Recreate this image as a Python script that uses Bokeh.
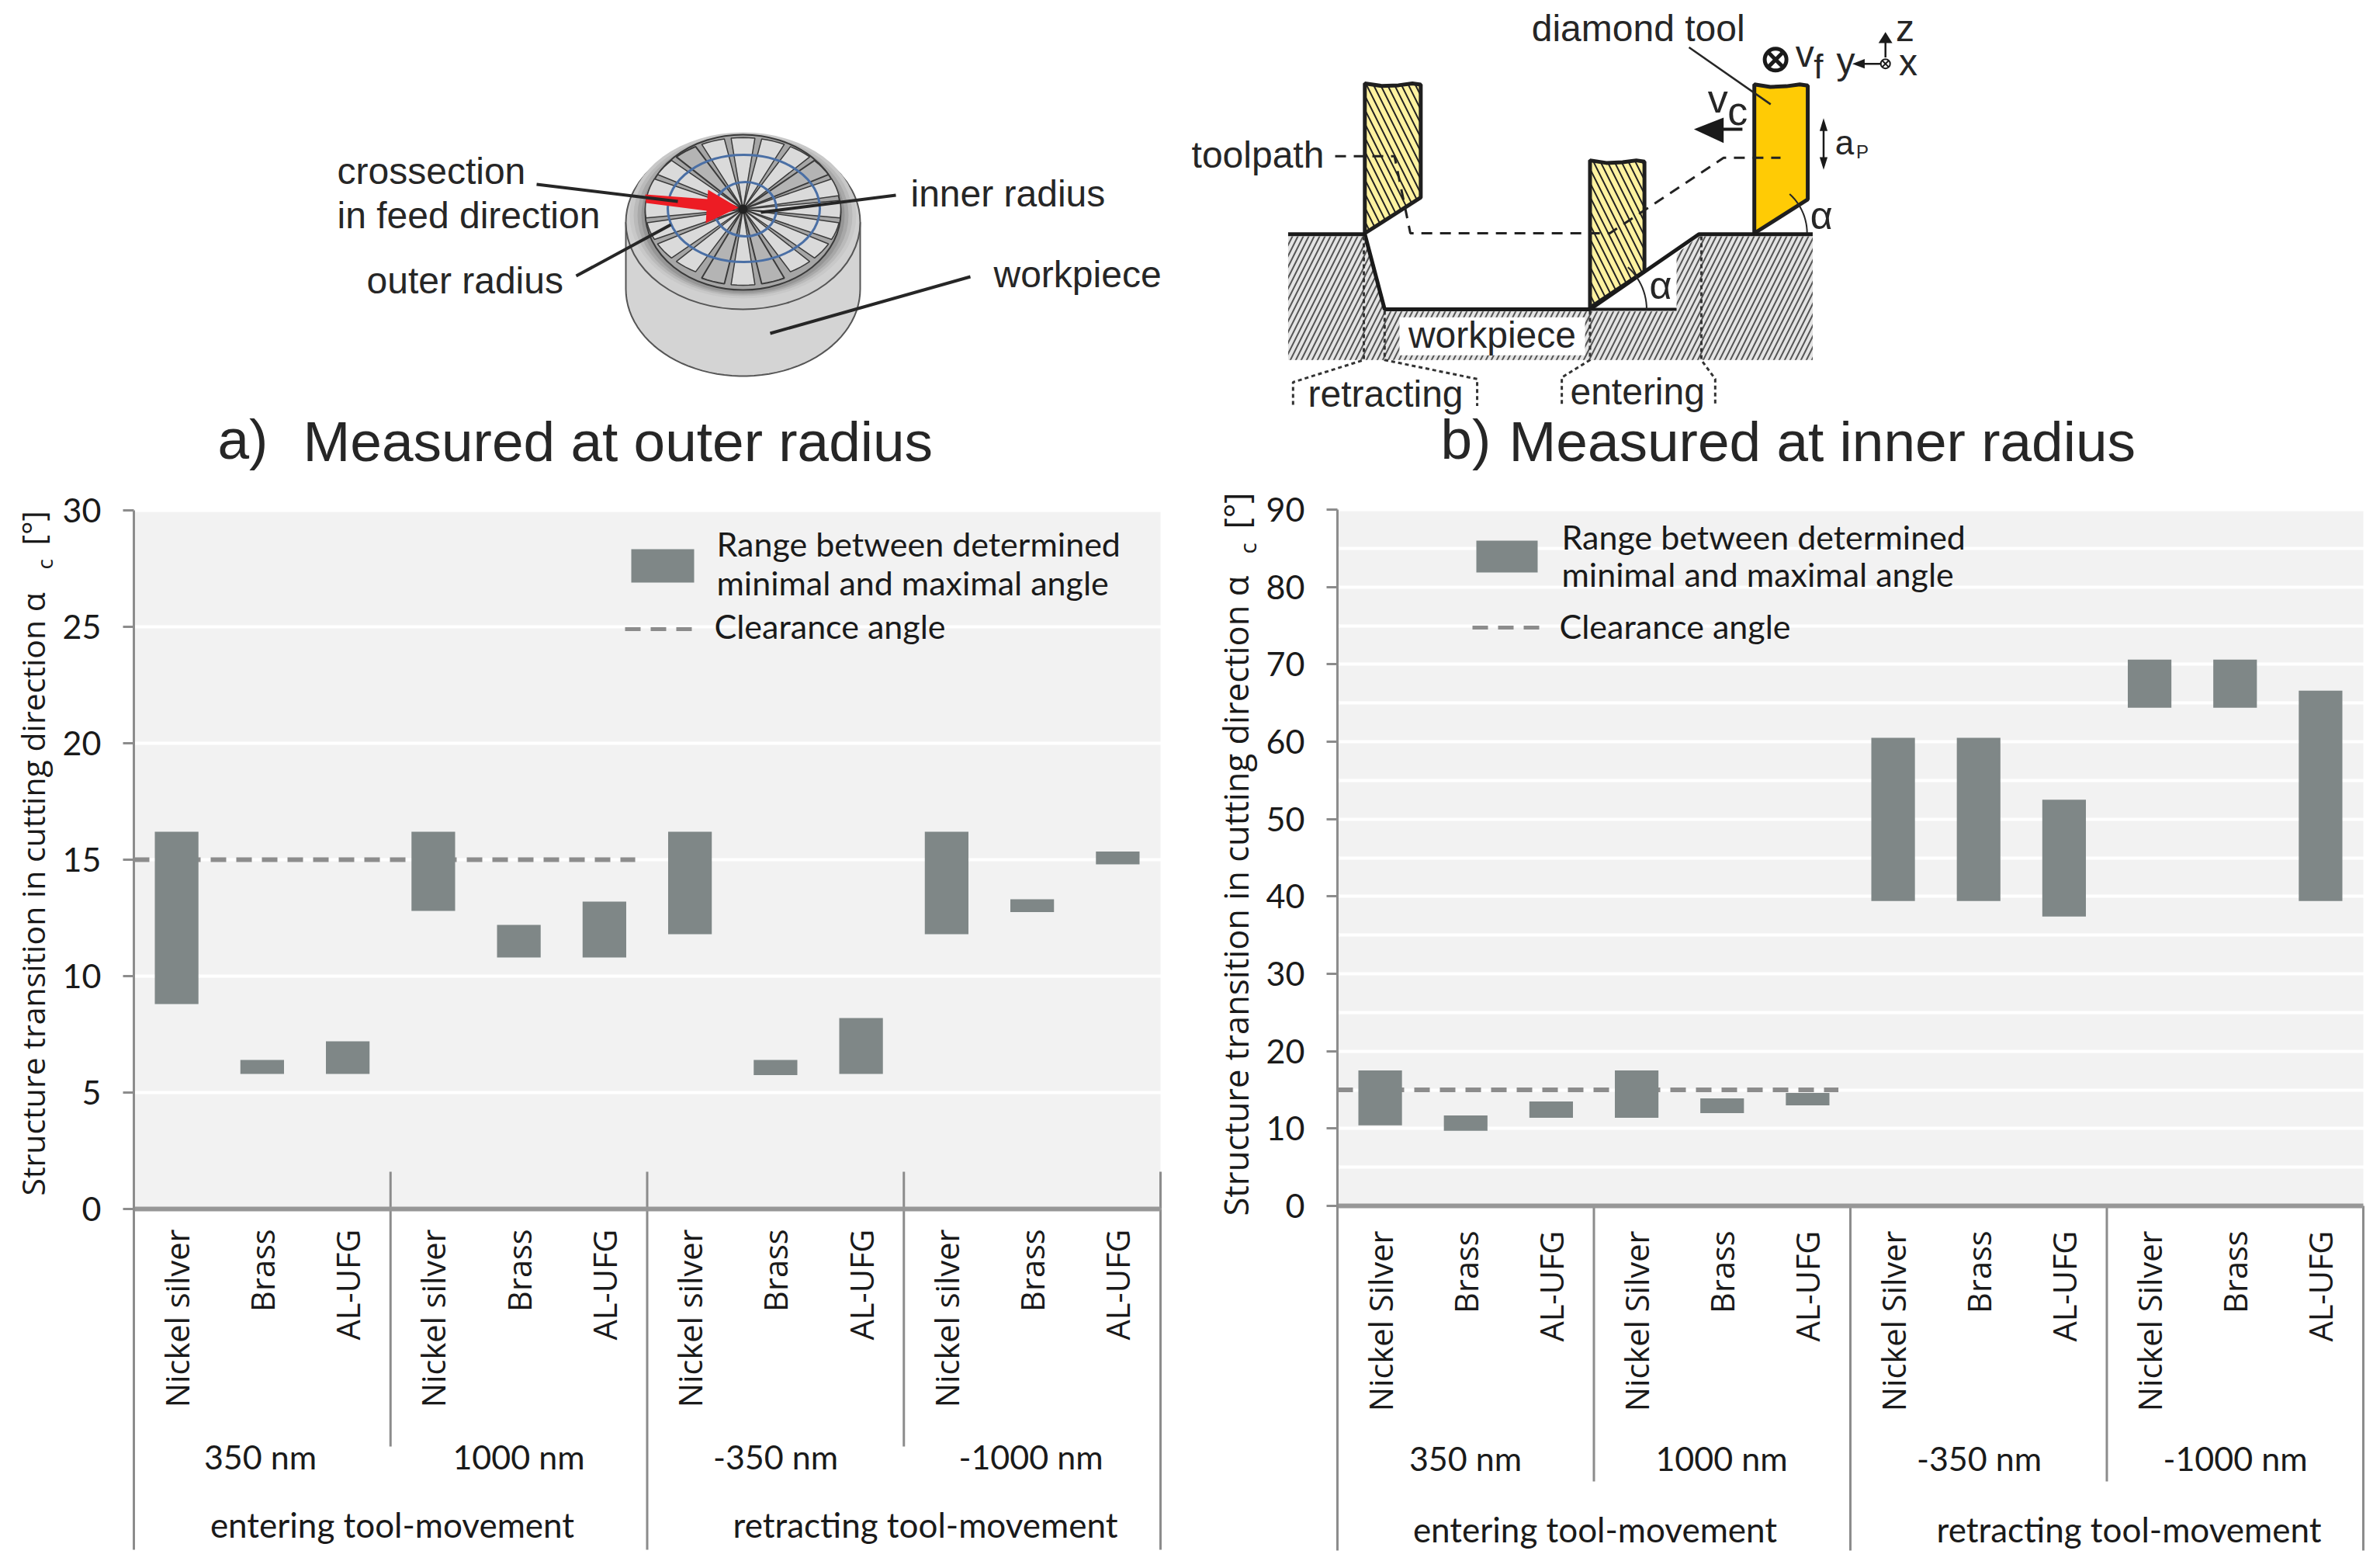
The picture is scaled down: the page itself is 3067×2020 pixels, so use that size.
import math
import numpy as np
from bokeh.core.properties import value
from bokeh.embed import file_html
from bokeh.layouts import column, row
from bokeh.models import BoxAnnotation, FixedTicker, Label, Range1d
from bokeh.plotting import figure
from bokeh.resources import INLINE

# ---------- data ----------
materials_a = ["Nickel silver", "Brass", "AL-UFG"] * 4
materials_b = ["Nickel Silver", "Brass", "AL-UFG"] * 4
depth_labels = ["350 nm", "1000 nm", "-350 nm", "-1000 nm"]
move_labels = ["entering tool-movement", "retracting tool-movement"]

outer_low = [8.8, 5.8, 5.8, 12.8, 10.8, 10.8, 11.8, 5.75, 5.8, 11.8, 12.75, 14.8]
outer_high = [16.2, 6.4, 7.2, 16.2, 12.2, 13.2, 16.2, 6.4, 8.2, 16.2, 13.3, 15.35]
inner_low = [10.4, 9.7, 11.4, 11.4, 12.0, 13.0, 39.4, 39.4, 37.4, 64.4, 64.4, 39.4]
inner_high = [17.5, 11.7, 13.5, 17.5, 13.9, 14.6, 60.5, 60.5, 52.5, 70.6, 70.6, 66.6]

outer_ticks = [0, 5, 10, 15, 20, 25, 30]
inner_ticks = [0, 10, 20, 30, 40, 50, 60, 70, 80, 90]
inner_minor = [5, 15, 25, 35, 45, 55, 65, 75, 85]
clearance_angle = 15

GREY = "#8c8c8c"
BAR = "#7f8787"
INK = "#262626"
SANS = "Liberation Sans"
CAL = "Lato"
WIDE = "Open Sans"


# ---------- charts ----------
def make_chart(names, low, high, ticks, minor, ymax, canvas, frame, zero, stub, sep_short, cfg):
    cl, cr, ct, cb = canvas
    l, r, t, b = frame
    sx = lambda px: (px - l) / (r - l) * 12
    sy = lambda py: (zero - py) / (zero - t) * ymax
    p = figure(width=cr - cl, height=cb - ct, output_backend="svg", toolbar_location=None,
               x_range=Range1d(sx(cl), sx(cr)), y_range=Range1d(sy(cb), sy(ct)),
               min_border=0, outline_line_color=None, background_fill_color="white",
               border_fill_color="white")
    box = BoxAnnotation(left=0, right=12, bottom=0, top=ymax, fill_color="#f2f2f2", fill_alpha=1,
                        line_color=None, level="image")
    p.add_layout(box)
    p.xgrid.visible = False
    g = p.ygrid[0]
    g.ticker = FixedTicker(ticks=ticks, minor_ticks=minor)
    g.grid_line_color = "white"
    g.grid_line_width = 4
    g.minor_grid_line_color = "white" if minor else None
    g.minor_grid_line_width = 4

    ya = p.yaxis[0]
    ya.fixed_location = 0
    ya.bounds = (sy(b), ymax)
    ya.ticker = FixedTicker(ticks=ticks)
    ya.major_label_text_font = CAL
    ya.major_label_text_font_size = "43px"
    ya.major_label_text_color = "#1a1a1a"
    ya.major_label_standoff = 28
    ya.major_tick_out = 14
    ya.major_tick_in = 0
    ya.minor_tick_line_color = None
    ya.major_tick_line_color = GREY
    ya.major_tick_line_width = 3
    ya.axis_line_color = GREY
    ya.axis_line_width = 3

    xa = p.xaxis[0]
    xa.fixed_location = 0
    xa.bounds = (0, 12)
    pos = [i + 0.5 for i in range(12)]
    xa.ticker = FixedTicker(ticks=pos)
    xa.major_label_overrides = {q: n for q, n in zip(pos, names)}
    xa.major_label_orientation = math.pi / 2
    xa.major_label_text_font = WIDE
    xa.major_label_text_font_size = cfg["tick_size"]
    xa.major_label_text_color = "#1a1a1a"
    xa.major_label_standoff = cfg["tick_off"]
    xa.major_tick_line_color = None
    xa.minor_tick_line_color = None
    xa.axis_line_color = "#979797"
    xa.axis_line_width = 6

    # clearance, then bars over it
    p.line([0, 5.86], [clearance_angle, clearance_angle], line_color=GREY, line_width=6, line_dash="20 13")
    p.vbar(x=pos, width=0.51, bottom=low, top=high, fill_color=BAR, line_color=None)

    # dividers
    xs = [3, 6, 9, 12, 3, 9, 6, 12]
    y0 = [sy(zero - stub)] * 4 + [0, 0, 0, 0]
    y1 = [0, 0, 0, 0, sy(sep_short), sy(sep_short), sy(b), sy(b)]
    p.segment(x0=xs, y0=y0, x1=xs, y1=y1, line_color=GREY, line_width=3)

    def lab(text, x, y, size, font=CAL, align="center", angle=0):
        p.add_layout(Label(x=sx(x), y=sy(y), text=text, text_font=font, text_font_size=f"{size}px",
                           text_align=align, text_baseline="middle", text_color="#1a1a1a", angle=angle))

    for k, txt in enumerate(depth_labels):
        lab(txt, cfg["depth_x"][k], cfg["depth_y"], 43)
    for k, txt in enumerate(move_labels):
        lab(txt, cfg["move_x"][k], cfg["move_y"], 44)

    # rotated axis title
    tx, ty = cfg["title"]
    lab("Structure transition in cutting direction \u03b1", tx, ty, cfg["title_size"], WIDE, "left", math.pi / 2)
    lab("c", tx + 15, cfg["sub_y"], cfg["title_size"] * 0.68, WIDE, "left", math.pi / 2)
    lab("[\u00b0]", tx, cfg["unit_y"], cfg["title_size"], WIDE, "left", math.pi / 2)

    # legend key
    kx0, kx1, ky0, ky1 = cfg["key"]
    p.quad(left=[sx(kx0)], right=[sx(kx1)], top=[sy(ky0)], bottom=[sy(ky1)], fill_color=BAR, line_color=None)
    dx0, dx1, dy = cfg["dash"]
    p.line([sx(dx0), sx(dx1)], [sy(dy), sy(dy)], line_color=GREY, line_width=5, line_dash="20 13")
    tl = cfg["legend_x"]
    lab("Range between determined", tl, cfg["legend_y"][0], 43, CAL, "left")
    lab("minimal and maximal angle", tl, cfg["legend_y"][1], 43, CAL, "left")
    lab("Clearance angle", tl - 3, cfg["legend_y"][2], 43, CAL, "left")
    return p


chart_a = make_chart(
    materials_a, outer_low, outer_high, outer_ticks, [], 30,
    (0, 1560, 620, 2012), (172, 1495, 657, 1996), 1557, 48, 1863,
    dict(tick_size="41.5px", tick_off=20, depth_x=[335, 668, 999, 1328], depth_y=1876,
         move_x=[505, 1192], move_y=1963, title=(41, 1540), title_size=41, sub_y=733, unit_y=702,
         key=(813, 894, 707, 750), dash=(805, 892, 810), legend_x=923, legend_y=(700, 750, 806)),
)
chart_b = make_chart(
    materials_b, inner_low, inner_high, inner_ticks, inner_minor, 90,
    (1560, 3059, 620, 2012), (1723, 3045, 656, 1997), 1553, 0, 1908,
    dict(tick_size="41.5px", tick_off=26, depth_x=[1888, 2218, 2550, 2880], depth_y=1878,
         move_x=[2055, 2743], move_y=1969, title=(1592, 1566), title_size=43.5, sub_y=713, unit_y=681,
         key=(1902, 1981, 696, 737), dash=(1897, 1983, 808), legend_x=2012, legend_y=(691, 739, 806)),
)

# ---------- schematics ----------
top = figure(width=3059, height=620, output_backend="svg", toolbar_location=None,
             x_range=Range1d(0, 3059), y_range=Range1d(620, 0), min_border=0,
             outline_line_color=None, x_axis_location=None, y_axis_location=None)
top.xgrid.visible = False
top.ygrid.visible = False


def T(text, x, y, size=48, align="left", font=SANS, color=INK):
    top.text(x=[x], y=[y], text=[text], text_font=value(font), text_font_size=f"{size}px",
             text_align=align, text_baseline="middle", text_color=color)


cx, cy = 957, 269
# cylinder body
ty = np.linspace(0, math.pi, 50)
bx = list(cx + 151 * np.cos(ty))
by = list(372 + 112 * np.sin(ty))
top.patch([cx + 151] + bx + [cx - 151], [286] + by + [286], fill_color="#d4d4d4", line_color="#555555", line_width=2)
top.ellipse(x=[cx], y=[286], width=[302], height=[224], fill_color="#d0d0d0", line_color="#555555", line_width=2)
for w, h, col in [(292, 214, "#c8c8c8"), (282, 208, "#bababa"), (272, 204, "#a8a8a8"), (262, 200, "#969696")]:
    top.ellipse(x=[cx], y=[277], width=[w], height=[h], fill_color=col, line_color=None)
top.ellipse(x=[cx], y=[273], width=[252], height=[200], fill_color="#a6a6a6", line_color="#3a3a3a", line_width=2)
rx, ry = 126, 96
wx, wy = [], []
for i in range(20):
    a = math.radians(90 + (i - 0.5) * 18)
    b = math.radians(90 + (i + 0.5) * 18)
    angs = np.linspace(a + 0.035, b - 0.035, 5)
    wx.append([cx] + list(cx + rx * np.cos(angs)))
    wy.append([cy] + list(cy - ry * np.sin(angs) * (0.96 if i not in (9, 10, 11) else 1.02)))
dark = (2, 9, 11, 17)
keep = [i for i in range(20) if i not in dark]
top.patches([wx[i] for i in keep], [wy[i] for i in keep], fill_color="#dadada", line_color="#3a3a3a", line_width=1.5)
top.patches([wx[i] for i in dark], [wy[i] for i in dark], fill_color="#b4b4b4", line_color="#3a3a3a", line_width=2)
top.ellipse(x=[958], y=[268], width=[196], height=[138], fill_color=None, line_color="#4a6fa5", line_width=3)
top.ellipse(x=[960], y=[269], width=[80], height=[70], fill_color=None, line_color="#4a6fa5", line_width=3)
top.circle(x=[cx], y=[cy], radius=6, fill_color="#222222", line_color=None)
top.patch([831, 911, 912, 951, 909, 910, 832], [250, 256, 244, 267, 287, 271, 261], fill_color="#ed1c24", line_color=None)
top.multi_line([[691, 873], [1154, 980], [742, 864], [1250, 992]],
               [[237, 259], [251, 273], [355, 289], [356, 429]], line_color=INK, line_width=4)
T("crossection", 434, 220)
T("in feed direction", 434, 277)
T("inner radius", 1173, 249)
T("outer radius", 472, 361)
T("workpiece", 1280, 353)
T("a)", 280, 565, 73)
T("Measured at outer radius", 390, 568, 73)
T("b)", 1856, 565, 73)
T("Measured at inner radius", 1944, 568, 73)


# right schematic
def zb(x, y):
    return 1500 + x / 1.568, y / 2.45


def pts(seq):
    arr = [zb(*q) for q in seq]
    return [q[0] for q in arr], [q[1] for q in arr]


xs, ys = pts([(250, 745), (405, 745), (445, 982), (1035, 982), (1035, 800), (1080, 745), (1310, 745), (1310, 1135), (250, 1135)])
top.patch(xs, ys, fill_color="#e4e4e4", line_color=None, hatch_pattern="right_diagonal_line",
          hatch_color="#555555", hatch_scale=14, hatch_weight=2)
xs, ys = pts([(475, 1000), (850, 1000), (850, 1120), (475, 1120)])
top.patch(xs, ys, fill_color="white", line_color=None)

top_wave = lambda a, b, y: [(a, y), (a + (b - a) * 0.3, y + 8), (a + (b - a) * 0.6, y + 6), (a + (b - a) * 0.85, y), (b, y + 4)]
for (a, b, y, ny, nb), col, hatched in [
    ((405, 518, 262, 622, 735), "#fff2a0", True),
    ((860, 970, 505, 855, 970), "#fff2a0", True),
    ((1192, 1300, 265, 628, 735), "#ffcb05", False),
]:
    xs, ys = pts(top_wave(a, b, y) + [(b, ny), (a, nb)])
    kw = dict(hatch_pattern="left_diagonal_line", hatch_color="#222222", hatch_scale=18, hatch_weight=2) if hatched else {}
    top.patch(xs, ys, fill_color=col, line_color="#1f1f1f", line_width=5, **kw)

xs, ys = pts([(250, 738), (405, 738), (445, 975), (860, 975), (1080, 738), (1310, 738)])
top.line(xs, ys, line_color="#1a1a1a", line_width=5)
xs, ys = pts([(860, 975), (1035, 975)])
top.line(xs, ys, line_color="#1a1a1a", line_width=4)
xs, ys = pts([(345, 492), (465, 492), (497, 735), (900, 735), (1130, 497), (1245, 497)])
top.line(xs, ys, line_color="#222222", line_width=3, line_dash="14 10")
for seq in [[(403, 745), (403, 1135), (260, 1205), (260, 1280)],
            [(445, 980), (445, 1135), (632, 1195), (632, 1280)],
            [(860, 980), (860, 1135), (803, 1190), (803, 1280)],
            [(1085, 745), (1085, 1135), (1113, 1195), (1113, 1280)]]:
    xs, ys = pts(seq)
    top.line(xs, ys, line_color="#333333", line_width=3, line_dash="5 4")
xs, ys = pts([(1060, 148), (1225, 328)])
top.line(xs, ys, line_color=INK, line_width=2.5)
# angle arcs
for (ax, ay), rad in [((1192, 735), 68), ((860, 975), 73)]:
    px, py = zb(ax, ay)
    th = np.radians(np.linspace(0, 48, 14))
    top.line(px + rad * np.cos(th), py - rad * np.sin(th), line_color=INK, line_width=2)
# cutting arrow
xs, ys = pts([(1070, 407), (1130, 370), (1130, 450)])
top.patch(xs, ys, fill_color="#1a1a1a", line_color=None)
xs, ys = pts([(1125, 407), (1168, 407)])
top.line(xs, ys, line_color="#1a1a1a", line_width=4)
# feed depth arrow
xs, ys = pts([(1332, 385), (1332, 522)])
top.line(xs, ys, line_color="#1a1a1a", line_width=2.5)
for (a, b, c) in [((1332, 372), (1324, 412), (1340, 412)), ((1332, 535), (1324, 495), (1340, 495))]:
    xs, ys = pts([a, b, c])
    top.patch(xs, ys, fill_color="#1a1a1a", line_color=None)
# coordinate marks
xs, ys = pts([(1400, 200), (1457, 200)])
top.line(xs, ys, line_color="#1a1a1a", line_width=2.5)
xs, ys = pts([(1457, 180), (1457, 130)])
top.line(xs, ys, line_color="#1a1a1a", line_width=2.5)
xs, ys = pts([(1457, 100), (1443, 135), (1471, 135)])
top.patch(xs, ys, fill_color="#1a1a1a", line_color=None)
xs, ys = pts([(1390, 200), (1415, 185), (1415, 215)])
top.patch(xs, ys, fill_color="#1a1a1a", line_color=None)
for (a, b), r, lw in [((1457, 200), 6, 2), ((1235, 187), 14, 5)]:
    qx, qy = zb(a, b)
    top.circle(x=[qx], y=[qy], radius=r, fill_color="white", line_color="#1a1a1a", line_width=lw)
    d = r * 0.7
    top.multi_line([[qx - d, qx + d], [qx - d, qx + d]], [[qy - d, qy + d], [qy + d, qy - d]], line_color="#1a1a1a", line_width=lw)

for txt, a, b, s in [("toolpath", 55, 488, 48), ("diamond tool", 742, 88, 48), ("workpiece", 493, 1055, 48),
                     ("retracting", 290, 1243, 48), ("entering", 820, 1235, 48), ("v", 1275, 170, 48),
                     ("f", 1312, 208, 44), ("y", 1358, 190, 48), ("x", 1484, 195, 48), ("z", 1478, 88, 48),
                     ("v", 1098, 310, 52), ("c", 1138, 348, 52), ("a", 1355, 448, 44), ("P", 1398, 478, 24),
                     ("\u03b1", 1305, 680, 50), ("\u03b1", 980, 900, 50)]:
    qx, qy = zb(a, b)
    T(txt, qx, qy, s)

layout = column(top, row(chart_a, chart_b))
open("out.html", "w").write(file_html(layout, INLINE))
